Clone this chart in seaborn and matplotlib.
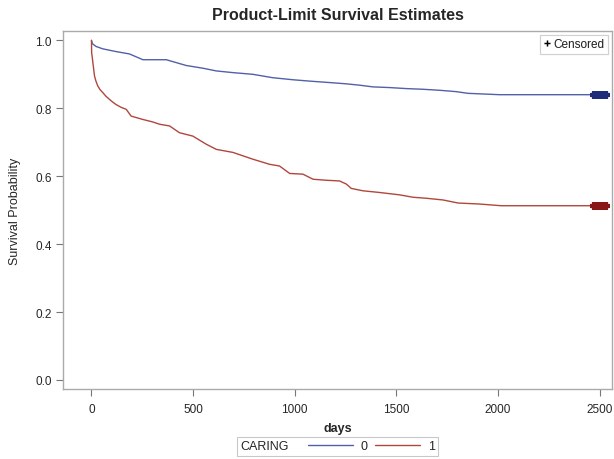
import pandas as pd
import numpy as np
import matplotlib
matplotlib.use("Agg")
import matplotlib.pyplot as plt
import seaborn as sns
from matplotlib.lines import Line2D
from matplotlib.offsetbox import HPacker

# Kaplan-Meier curve values
days_0 = [0, 5, 23, 56, 121, 187, 253, 368, 466, 548, 614, 696, 794, 892,
          991, 1073, 1188, 1253, 1319, 1384, 1466, 1548, 1630, 1712, 1794,
          1852, 2008, 2540]
surv_0 = [1.0, 0.99, 0.982, 0.975, 0.967, 0.960, 0.943, 0.943, 0.926, 0.918,
          0.910, 0.905, 0.900, 0.890, 0.884, 0.880, 0.875, 0.872, 0.868,
          0.863, 0.861, 0.858, 0.856, 0.853, 0.849, 0.844, 0.840, 0.840]

days_1 = [0, 1, 4, 7, 11, 15, 22, 31, 42, 56, 72, 89, 105, 121, 145, 171,
          195, 253, 300, 335, 384, 433, 499, 565, 614, 696, 794, 876, 925,
          975, 1040, 1090, 1155, 1220, 1253, 1278, 1335, 1417, 1516, 1581,
          1647, 1729, 1803, 1909, 2016, 2540]
surv_1 = [1.0, 0.963, 0.950, 0.934, 0.915, 0.895, 0.880, 0.866, 0.855, 0.846,
          0.835, 0.826, 0.818, 0.811, 0.803, 0.797, 0.777, 0.767, 0.760,
          0.753, 0.748, 0.728, 0.718, 0.694, 0.679, 0.670, 0.650, 0.635,
          0.630, 0.608, 0.606, 0.591, 0.588, 0.586, 0.577, 0.564, 0.557,
          0.552, 0.545, 0.538, 0.535, 0.530, 0.521, 0.518, 0.513, 0.513]

# censored observations bunched at the end of follow-up
censor_days = [2472, 2478, 2484, 2490, 2496, 2502, 2508, 2514, 2520, 2526, 2532]

groups = ["0", "1"]
line_colors = {"0": "#5260a8", "1": "#b0473d"}
censor_colors = {"0": "#1f2d78", "1": "#8a1717"}

df = pd.concat([
    pd.DataFrame({"days": days_0, "surv": surv_0, "CARING": "0"}),
    pd.DataFrame({"days": days_1, "surv": surv_1, "CARING": "1"}),
])

sns.set_style("white")
plt.rcParams["font.family"] = ["Liberation Sans", "DejaVu Sans"]

fig = plt.figure(figsize=(6.14, 4.6), dpi=100)
ax = fig.add_axes([0.1026, 0.152, 0.894, 0.778])

sns.lineplot(data=df, x="days", y="surv", hue="CARING", palette=line_colors,
             linewidth=1.0, legend=False, ax=ax, estimator=None, sort=True)

last = {"0": surv_0[-1], "1": surv_1[-1]}
for g in groups:
    ax.plot(censor_days, [last[g]] * len(censor_days), linestyle="none",
            marker="+", markersize=5.5, mew=3, color=censor_colors[g])

ax.set_xlim(-140, 2560)
ax.set_ylim(-0.027, 1.027)
ax.set_xticks([0, 500, 1000, 1500, 2000, 2500])
ax.set_yticks([0.0, 0.2, 0.4, 0.6, 0.8, 1.0])
ax.set_yticklabels(["0.0", "0.2", "0.4", "0.6", "0.8", "1.0"])
ax.tick_params(axis="both", which="both", direction="out", length=5,
               width=0.8, color="#777777", labelsize=8.5, pad=3,
               bottom=True, left=True)
ax.tick_params(axis="x", pad=5)
for s in ax.spines.values():
    s.set_color("#aaaaaa")
    s.set_linewidth(1.0)

ax.set_xlabel("days", fontsize=9, fontweight="bold", labelpad=5)
ax.set_ylabel("Survival Probability", fontsize=9, labelpad=10)
ax.set_title("Product-Limit Survival Estimates", fontsize=11.5,
             fontweight="bold", pad=9)

# censored key in the top-right corner
cens = ax.legend(handles=[Line2D([], [], linestyle="none", marker="+",
                                 markersize=5, mew=1, color="black")],
                 labels=["Censored"], loc="upper right", fontsize=8.5,
                 frameon=True, fancybox=False, edgecolor="#cccccc",
                 handlelength=0.6, handletextpad=0.3, borderpad=0.3,
                 borderaxespad=0.3)
cens.get_frame().set_linewidth(0.8)
ax.add_artist(cens)

# group key at the bottom: CARING —— 0 —— 1
handles = [Line2D([], [], color=line_colors[g], linewidth=1.0) for g in groups]
leg = fig.legend(handles=handles, labels=groups, ncol=2, title="CARING",
                 loc="lower center", bbox_to_anchor=(0.55, -0.006),
                 fontsize=9, title_fontsize=9, frameon=True, fancybox=False,
                 edgecolor="#bbbbbb", handlelength=3.6, handletextpad=0.6,
                 columnspacing=0.6, borderpad=0.25)
leg.get_frame().set_linewidth(0.8)
leg._legend_box.__class__ = HPacker
leg._legend_box.sep = 14
leg._legend_box.align = "center"

fig.savefig("out.png", dpi=100)
